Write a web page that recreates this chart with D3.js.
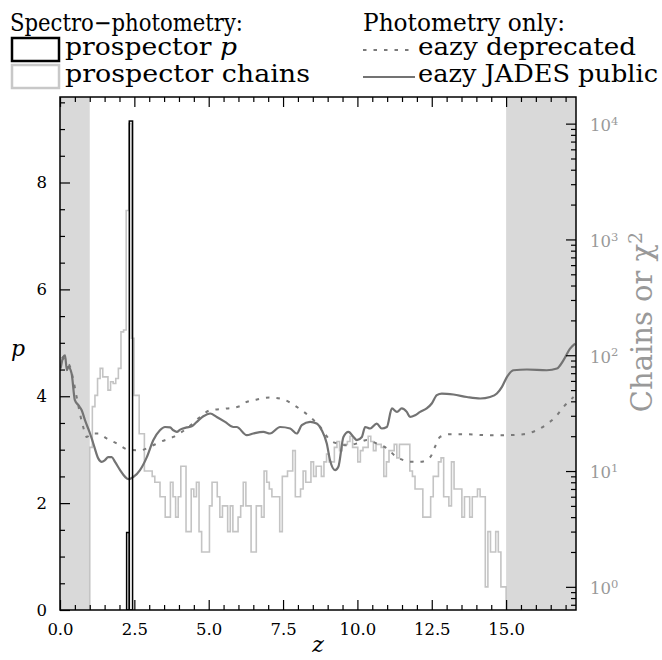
<!DOCTYPE html>
<html><head><meta charset="utf-8">
<script src="https://cdn.jsdelivr.net/npm/d3@7"></script>
<style>
html,body{margin:0;padding:0;background:#fff;}
svg{display:block;}
text{font-family:"DejaVu Serif",serif;}
</style></head>
<body><svg id="c" width="662" height="660"></svg>
<script>
// ---------- data ----------
const xMajorTicks = [0, 2.5, 5, 7.5, 10, 12.5, 15];
const pTicks = [0, 2, 4, 6, 8];
const logTicks = [1, 10, 100, 1000, 10000];
const shadedRanges = [[0, 1], [15, 17.35]];

// prospector p histogram (spectro-photometry)
const pEdges = [2.24, 2.33, 2.44];
const pValues = [1.45, 9.15];

// prospector chains histogram (counts)
const chainStart = 1.0;
const chainBinWidth = 0.0875;
const chainCounts = [16,36,45,63,77,65,65,50,59,57,63,77,159,165,1780,10000,140,45,45,21,
21,10,10,10,9,8,8,6,6,4,4,8,6,4,6,11,11,3,3,7,
6,8,3,2,2,2,5,8,8,6,4,5,5,3,5,3,3,4,5,8,
5,5,2,2,5,5,4,10,8,7,6,6,6,3,9,9,10,10,15,6,
6,7,10,8,8,12,9,11,11,9,12,14,12,12,16,18,15,17,17,18,
20,16,16,12,15,16,16,20,18,15,17,17,16,9,12,15,15,17,13,17,
17,17,17,10,9,7,7,7,4,4,4,6,9,9,12,13,6,6,5,12,
7,7,7,4,6,6,4,6,6,7,6,6,1,3,2,2,3,2,1,1];

// eazy JADES public (chi2 vs z)
const zJades = [0.02,0.11,0.17,0.23,0.28,0.39,0.50,0.62,0.73,0.84,1.01,1.12,1.29,1.40,1.51,1.62,1.74,1.85,2.02,2.19,2.30,2.47,2.69,2.92,3.14,3.36,3.53,3.70,3.81,3.93,4.04,4.26,4.43,4.60,4.82,5.05,5.27,5.55,5.83,5.94,6.28,6.50,6.84,7.06,7.40,7.74,7.96,8.13,8.41,8.63,8.80,8.97,9.08,9.25,9.36,9.53,9.70,9.87,9.98,10.15,10.26,10.43,10.65,10.82,10.99,11.16,11.33,11.49,11.66,11.77,11.94,12.11,12.33,12.50,12.67,12.84,13.23,13.68,14.13,14.46,14.69,14.86,15.03,15.25,15.70,16.37,16.71,16.93,17.15,17.32];
const chi2Jades = [76.8,96.7,100,74.2,79.3,69.5,40.9,37.0,33.5,27.5,21.1,17.3,12.8,12.0,12.4,13.2,13.2,12.0,10.2,8.9,8.5,8.9,10.2,13.2,18.5,22.5,24.0,23.8,22.5,21.8,22.8,23.8,24.4,26.6,29.7,31.4,29.3,26.6,24.0,24.0,20.4,21.1,21.8,21.1,24.0,23.3,21.1,24.9,26.6,25.7,22.5,17.3,12.4,10.2,10.9,19.7,21.8,19.7,18.5,19.7,24.0,23.3,25.7,23.3,24.0,34.7,32.4,34.7,32.4,29.3,30.3,32.4,34.7,38.3,45.2,46.7,45.8,43.6,42.3,43.6,46.7,53.3,65.0,74.2,75.3,74.2,76.8,90.6,114,126];

// eazy deprecated (chi2 vs z)
const zDep = [0.06,0.23,0.34,0.45,0.56,0.67,0.78,0.90,1.07,1.29,1.57,1.91,2.30,2.69,3.03,3.36,3.81,4.26,4.71,5.05,5.61,6.05,6.17,6.62,7.06,7.51,7.96,8.41,8.75,9.08,9.31,9.64,9.98,10.32,10.65,10.99,11.32,11.55,11.77,12.11,12.45,12.61,12.78,13.12,13.68,14.35,15.03,15.58,16.03,16.37,16.71,16.93,17.15,17.27];
const chi2Dep = [96.7,87.5,79.3,60.9,43.6,31.4,24.0,19.7,21.1,21.1,19.1,17.3,15.3,15.1,16.2,17.8,19.7,23.3,29.3,33.5,34.7,36.3,38.3,41.5,43.1,41.5,35.8,29.3,24.0,18.5,17.3,16.7,17.3,18.5,17.3,15.7,13.2,12.4,12.0,12.0,13.2,16.2,19.7,20.8,20.8,20.4,20.4,20.8,22.5,25.4,30.3,35.8,40.9,43.6];

// ---------- layout ----------
const L = 60, R = 576, T = 97, B = 610;
const svg = d3.select("#c");
const x = d3.scaleLinear().domain([0, 17.35]).range([L, R]);
const yP = d3.scaleLinear().domain([0, 9.6]).range([B, T]);
const yL = d3.scaleLog().domain([Math.pow(10, -0.2), Math.pow(10, 4.23)]).range([B, T]);

svg.append("defs").append("clipPath").attr("id", "clip")
  .append("rect").attr("x", L).attr("y", T).attr("width", R - L).attr("height", B - T);

const plot = svg.append("g").attr("clip-path", "url(#clip)");

// shaded regions
plot.selectAll("rect.shade").data(shadedRanges).enter().append("rect")
  .attr("x", d => x(d[0])).attr("y", T)
  .attr("width", d => x(d[1]) - x(d[0])).attr("height", B - T)
  .attr("fill", "#d9d9d9");

// chains step histogram
(function () {
  const pts = [];
  const e = i => chainStart + i * chainBinWidth;
  pts.push([x(e(0)), B + 2]);
  chainCounts.forEach((c, i) => {
    pts.push([x(e(i)), yL(c)]);
    pts.push([x(e(i + 1)), yL(c)]);
  });
  pts.push([x(e(chainCounts.length)), B + 2]);
  plot.append("path").attr("d", d3.line()(pts))
    .attr("fill", "none").attr("stroke", "#c4c4c4").attr("stroke-width", 1.6)
    .attr("stroke-linejoin", "miter");
})();

// eazy curves
const lineJ = d3.line().x((d, i) => x(zJades[i])).y(d => yL(d)).curve(d3.curveMonotoneX);
const lineD = d3.line().x((d, i) => x(zDep[i])).y(d => yL(d)).curve(d3.curveMonotoneX);
plot.append("path").attr("d", lineD(chi2Dep)).attr("fill", "none")
  .attr("stroke", "#7a7a7a").attr("stroke-width", 2).attr("stroke-dasharray", "3.5,7");
plot.append("path").attr("d", lineJ(chi2Jades)).attr("fill", "none")
  .attr("stroke", "#737373").attr("stroke-width", 2.2);

// p histogram bars
plot.selectAll("rect.pbar").data(pValues).enter().append("rect")
  .attr("x", (d, i) => x(pEdges[i])).attr("y", d => yP(d))
  .attr("width", (d, i) => x(pEdges[i + 1]) - x(pEdges[i]))
  .attr("height", d => B - yP(d))
  .attr("fill", "none").attr("stroke", "#000").attr("stroke-width", 1.5);

// ---------- axes ----------
function styleAxis(g) {
  g.select(".domain").remove();
  g.selectAll("line").attr("stroke", "#000").attr("stroke-width", 1.2);
  g.selectAll("text").attr("font-family", "DejaVu Serif").attr("font-size", 16.5).attr("fill", "#000");
}
const xMinor = d3.range(0, 17.35, 0.5).filter(v => !xMajorTicks.includes(v));
svg.append("g").attr("transform", `translate(0,${B})`)
  .call(d3.axisBottom(x).tickValues(xMajorTicks).tickSize(-10).tickPadding(13).tickFormat(d3.format(".1f")))
  .call(styleAxis);
svg.append("g").attr("transform", `translate(0,${B})`)
  .call(d3.axisBottom(x).tickValues(xMinor).tickSize(-5).tickFormat(""))
  .call(styleAxis);
svg.append("g").attr("transform", `translate(0,${T})`)
  .call(d3.axisTop(x).tickValues(xMajorTicks).tickSize(-10).tickFormat(""))
  .call(styleAxis);
svg.append("g").attr("transform", `translate(0,${T})`)
  .call(d3.axisTop(x).tickValues(xMinor).tickSize(-5).tickFormat(""))
  .call(styleAxis);

const pMinor = d3.range(0.5, 9.6, 0.5).filter(v => !pTicks.includes(v));
svg.append("g").attr("transform", `translate(${L},0)`)
  .call(d3.axisLeft(yP).tickValues(pTicks).tickSize(-10).tickPadding(13).tickFormat(d3.format("d")))
  .call(styleAxis);
svg.append("g").attr("transform", `translate(${L},0)`)
  .call(d3.axisLeft(yP).tickValues(pMinor).tickSize(-5).tickFormat(""))
  .call(styleAxis);

const logMinor = [];
for (let k = -1; k <= 4; k++) for (let m = 2; m <= 9; m++) {
  const v = m * Math.pow(10, k);
  if (v > yL.domain()[0] && v < yL.domain()[1]) logMinor.push(v);
}
const rAx = svg.append("g").attr("transform", `translate(${R},0)`)
  .call(d3.axisRight(yL).tickValues(logTicks).tickSize(-10).tickPadding(14).tickFormat(""))
  .call(styleAxis);
rAx.selectAll(".tick text").each(function (d) {
  const t = d3.select(this).attr("fill", "#999").attr("font-size", 16.5).attr("dy", "0.42em");
  t.append("tspan").text("10");
  t.append("tspan").attr("dy", "-0.55em").attr("font-size", 11.5).text(String(Math.round(Math.log10(d))));
});
svg.append("g").attr("transform", `translate(${R},0)`)
  .call(d3.axisRight(yL).tickValues(logMinor).tickSize(-5).tickFormat(""))
  .call(styleAxis);

// frame
svg.append("rect").attr("x", L).attr("y", T).attr("width", R - L).attr("height", B - T)
  .attr("fill", "none").attr("stroke", "#000").attr("stroke-width", 1.5);

// axis labels
svg.append("text").attr("x", 318).attr("y", 652).attr("text-anchor", "middle")
  .attr("font-size", 22).attr("font-style", "italic").text("z");
svg.append("text").attr("x", 18).attr("y", 356).attr("text-anchor", "middle")
  .attr("font-size", 22).attr("font-style", "italic").text("p");
const rl = svg.append("text").attr("transform", "translate(652,322) rotate(-90)")
  .attr("text-anchor", "middle").attr("font-size", 29).attr("fill", "#999");
rl.append("tspan").text("Chains or ");
rl.append("tspan").text("\u03C7");
rl.append("tspan").attr("dy", "-0.55em").attr("font-size", 19).text("2");

// ---------- legends ----------
const fs = 24;
function legText(xp, yp, width) {
  return svg.append("text").attr("x", xp).attr("y", yp).attr("font-size", fs)
    .attr("textLength", width).attr("lengthAdjust", "spacingAndGlyphs");
}
legText(10, 31, 233).text("Spectro\u2212photometry:");
svg.append("rect").attr("x", 12).attr("y", 38).attr("width", 47).attr("height", 23)
  .attr("fill", "none").attr("stroke", "#000").attr("stroke-width", 2.5);
const t1 = legText(65, 55, 172);
t1.append("tspan").text("prospector ");
t1.append("tspan").attr("font-style", "italic").text("p");
svg.append("rect").attr("x", 12).attr("y", 65).attr("width", 47).attr("height", 23)
  .attr("fill", "none").attr("stroke", "#c8c8c8").attr("stroke-width", 2.5);
legText(65, 82, 245).text("prospector chains");

legText(363, 31, 202).text("Photometry only:");
svg.append("line").attr("x1", 363).attr("x2", 415).attr("y1", 50).attr("y2", 50)
  .attr("stroke", "#7a7a7a").attr("stroke-width", 2).attr("stroke-dasharray", "3.5,7");
legText(418, 55, 218).text("eazy deprecated");
svg.append("line").attr("x1", 363).attr("x2", 415).attr("y1", 77).attr("y2", 77)
  .attr("stroke", "#737373").attr("stroke-width", 2.2);
legText(418, 82, 240).text("eazy JADES public");
</script>
</body></html>
